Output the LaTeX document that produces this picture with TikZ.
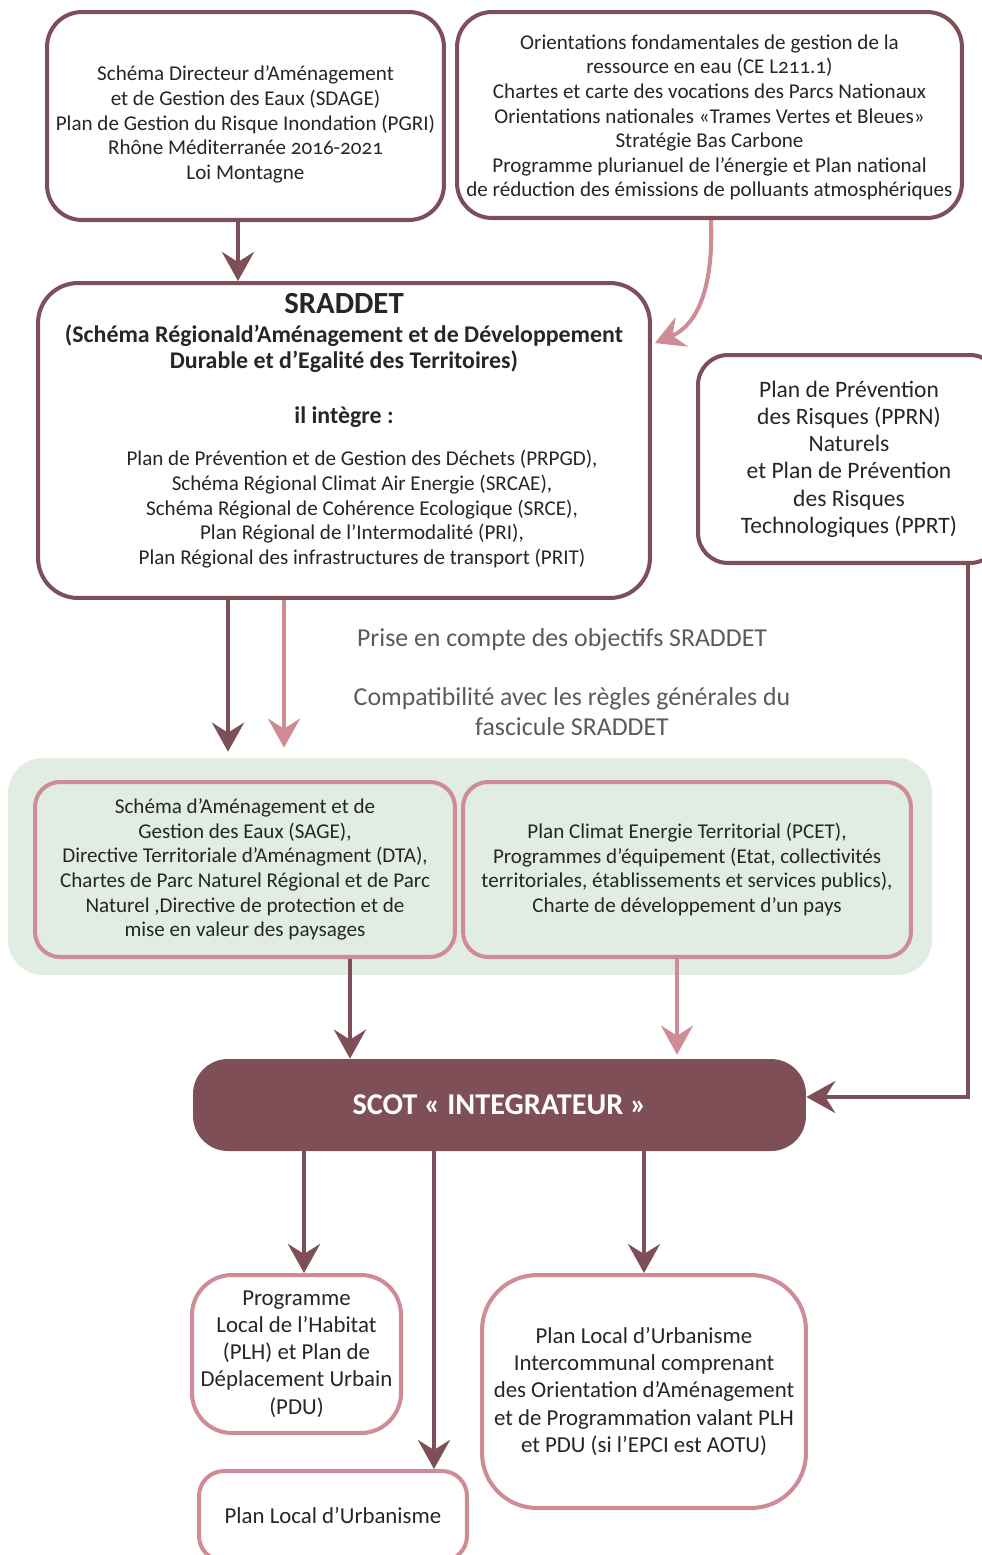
\documentclass[tikz,border=0pt]{standalone}
\usepackage{fontspec}
\setmainfont{Carlito}[Numbers=OldStyle]
\usetikzlibrary{arrows.meta}

\definecolor{bordeaux}{HTML}{7F4F57}
\definecolor{rosepale}{HTML}{D08C96}
\definecolor{vertpale}{HTML}{E1EDE3}
\definecolor{gristexte}{HTML}{5A5A5A}
\definecolor{encre}{HTML}{262626}

\begin{document}
\begin{tikzpicture}[x=0.02cm, y=-0.02cm,
	every node/.style={font=\fontsize{12}{14}\selectfont, text=encre, align=center},
	cadre/.style={draw=bordeaux, line width=2.3pt, rounded corners=0.7cm, fill=white},
	cadrevert/.style={draw=rosepale, line width=2.3pt, rounded corners=0.5cm, fill=vertpale},
	cadrebas/.style={draw=rosepale, line width=2.3pt, fill=white, font=\fontsize{13}{15.5}\selectfont},
	lien/.style={font=\fontsize{14.7}{17}\selectfont, text=gristexte},
	fleche/.style={draw=bordeaux, line width=2.6pt, -{Stealth[length=0.58cm, width=0.64cm, inset=0.2cm]}},
	flecherose/.style={draw=rosepale, line width=2.3pt, -{Stealth[length=0.58cm, width=0.64cm, inset=0.2cm]}}]

	\useasboundingbox (0,0) rectangle (982,1555);

	% plans nationaux et de bassin
	\node[cadre, minimum width=7.94cm, minimum height=4.16cm] (sdage) at (245.5,116)
		{\mbox{}\\[4pt]Schéma Directeur d’Aménagement\\ et de Gestion des Eaux (SDAGE)\\ Plan de Gestion du Risque Inondation (PGRI)\\ Rhône Méditerranée 2016-2021\\ Loi Montagne};
	\node[cadre, minimum width=10.1cm, minimum height=4.12cm] (orient) at (709.5,115)
		{\mbox{}\\[-2.8pt]Orientations fondamentales de gestion de la\\ ressource en eau (CE L211.1)\\ Chartes et carte des vocations des Parcs Nationaux\\ Orientations nationales «Trames Vertes et Bleues»\\ Stratégie Bas Carbone\\ Programme plurianuel de l’énergie et Plan national\\ de réduction des émissions de polluants atmosphériques};

	% SRADDET
	\node[cadre, rounded corners=0.8cm, minimum width=12.24cm, minimum height=6.3cm] (sraddet) at (344,440.5)
		{{\fontsize{17.5}{17.5}\selectfont\bfseries SRADDET}\\[2.4pt]
		{\fontsize{13.6}{14}\selectfont\bfseries (Schéma Régionald’Aménagement et de Développement}\\[0.7pt]
		{\fontsize{13.6}{14}\selectfont\bfseries Durable et d’Egalité des Territoires)}\\[17pt]
		{\fontsize{13.6}{14}\selectfont\bfseries il intègre :}\\[10.4pt]
		\hspace*{0.72cm}Plan de Prévention et de Gestion des Déchets (PRPGD),\\
		\hspace*{0.72cm}Schéma Régional Climat Air Energie (SRCAE),\\
		\hspace*{0.72cm}Schéma Régional de Cohérence Ecologique (SRCE),\\
		\hspace*{0.72cm}Plan Régional de l’Intermodalité (PRI),\\
		\hspace*{0.72cm}Plan Régional des infrastructures de transport (PRIT)\\[-1pt]\mbox{}};

	\node[cadre, rounded corners=0.6cm, minimum width=6.04cm, minimum height=4.16cm, font=\fontsize{13.4}{15.5}\selectfont] (ppr) at (849,459)
		{Plan de Prévention\\ des Risques (PPRN)\\ Naturels\\ et Plan de Prévention\\ des Risques\\ Technologiques (PPRT)};

	% textes du lien SRADDET
	\node[lien] (prise) at (562,640) {Prise en compte des objectifs SRADDET};
	\node[lien] (compat) at (572,712) {Compatibilité avec les règles générales du\\ fascicule SRADDET};

	% zone verte
	\node[fill=vertpale, rounded corners=0.7cm, minimum width=18.48cm, minimum height=4.34cm] (zone) at (470,866.5) {};
	\node[cadrevert, minimum width=8.4cm, minimum height=3.5cm] (sage) at (245,869.5)
		{Schéma d’Aménagement et de\\ Gestion des Eaux (SAGE),\\ Directive Territoriale d’Aménagment (DTA),\\ Chartes de Parc Naturel Régional et de Parc\\ Naturel ,Directive de protection et de\\ mise en valeur des paysages};
	\node[cadrevert, minimum width=8.96cm, minimum height=3.5cm] (pcet) at (687,869.5)
		{Plan Climat Energie Territorial (PCET),\\ Programmes d’équipement (Etat, collectivités\\ territoriales, établissements et services publics),\\ Charte de développement d’un pays};

	% SCOT
	\node[fill=bordeaux, rounded corners=0.7cm, minimum width=12.26cm, minimum height=1.84cm, text=white, font=\fontsize{17.2}{18}\selectfont\bfseries] (scot) at (499.5,1105) {SCOT « INTEGRATEUR »};

	% documents locaux
	\node[cadrebas, rounded corners=0.8cm, minimum width=4.18cm, minimum height=3.16cm] (plh) at (296.5,1354)
		{Programme\\ Local de l’Habitat\\ (PLH) et Plan de\\ Déplacement Urbain\\ (PDU)};
	\node[cadrebas, rounded corners=0.5cm, minimum width=5.36cm, minimum height=1.8cm] (plu) at (333,1516) {Plan Local d’Urbanisme};
	\node[cadrebas, rounded corners=1.1cm, minimum width=6.48cm, minimum height=4.66cm] (plui) at (644,1391.5)
		{Plan Local d’Urbanisme\\ Intercommunal comprenant\\ des Orientation d’Aménagement\\ et de Programmation valant PLH\\ et PDU (si l’EPCI est AOTU)};

	% fleches
	\draw[fleche] ([xshift=-0.15cm]sdage.south) -- ([xshift=-0.15cm]sdage.south |- sraddet.north);
	\draw[flecherose] ([xshift=0.03cm]orient.south) .. controls +(3,80) and +(36,-15) .. ([shift={(3,62)}]sraddet.north east);
	\draw[fleche, shorten >=0.12cm] ([xshift=-2.32cm]sraddet.south) -- ([xshift=-2.32cm]sraddet.south |- zone.north);
	\draw[flecherose, shorten >=0.2cm] ([xshift=-1.2cm]sraddet.south) -- ([xshift=-1.2cm]sraddet.south |- zone.north);
	\draw[fleche] ([xshift=2.38cm]ppr.south) |- ([yshift=0.16cm]scot.east);
	\draw[fleche] ([xshift=2.1cm]sage.south) -- ([xshift=2.1cm]sage.south |- scot.north);
	\draw[flecherose, shorten >=0.08cm] ([xshift=-0.2cm]pcet.south) -- ([xshift=-0.2cm]pcet.south |- scot.north);
	\foreach \cible/\dx in {plh/0.15cm, plu/2.02cm, plui/0cm}
		\draw[fleche] ([xshift=\dx]\cible.north |- scot.south) -- ([xshift=\dx]\cible.north);
\end{tikzpicture}
\end{document}
